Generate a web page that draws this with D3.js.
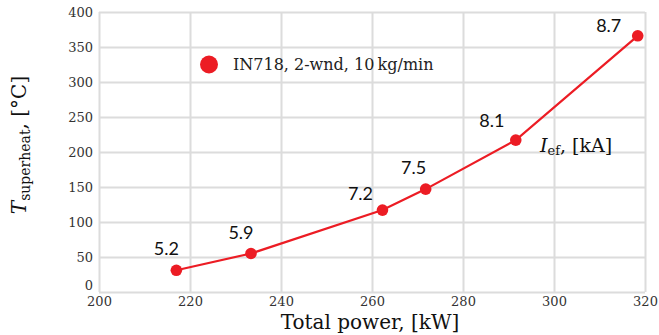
<!DOCTYPE html>
<html>
<head>
<meta charset="utf-8">
<script src="https://cdn.jsdelivr.net/npm/d3@7"></script>
<style>
  html, body { margin: 0; padding: 0; background: #fff; }
  svg { display: block; }
</style>
</head>
<body>
<svg id="chart" width="659" height="335"></svg>
<script>
// Superheat temperature vs total power, labelled with effective current
const power = [217.0, 233.4, 262.3, 271.8, 291.6, 318.4];      // kW
const superheat = [31, 55, 117, 147, 217, 366];                 // °C
const current = ["5.2", "5.9", "7.2", "7.5", "8.1", "8.7"];     // kA
const xTicks = [200, 220, 240, 260, 280, 300, 320];
const yTicks = [0, 50, 100, 150, 200, 250, 300, 350, 400];
const legendLabel = "IN718, 2-wnd, 10\u2009kg/min";

// where each current label sits relative to its point (px)
const labelDx = [-10, -10, -22, -12, -24, -29];
const labelDy = [-15, -15, -10, -15, -13, -4];

const svg = d3.select("#chart");
const red = "#ec1c24";
const grid = "#dcdcdc";
const serif = "'DejaVu Serif', 'Liberation Serif', serif";
const sans = "Lato, 'Open Sans', sans-serif";

const x = d3.scaleLinear().domain([200, 320]).range([99, 645]);
const y = d3.scaleLinear().domain([0, 400]).range([292, 12]);

// grid lines
svg.append("g")
  .attr("transform", `translate(0,${y(0)})`)
  .call(d3.axisBottom(x).tickValues(xTicks).tickSize(-(y(0) - y(400))).tickFormat(""))
  .call(g => g.select(".domain").remove())
  .call(g => g.selectAll("line").attr("stroke", grid).attr("stroke-width", 2));

svg.append("g")
  .attr("transform", `translate(${x(200)},0)`)
  .call(d3.axisLeft(y).tickValues(yTicks).tickSize(-(x(320) - x(200))).tickFormat(""))
  .call(g => g.select(".domain").remove())
  .call(g => g.selectAll("line").attr("stroke", grid).attr("stroke-width", 2));

// tick labels
svg.append("g")
  .attr("transform", `translate(0,${y(0)})`)
  .call(d3.axisBottom(x).tickValues(xTicks).tickSize(0).tickPadding(0))
  .call(g => g.select(".domain").remove())
  .call(g => g.selectAll("text")
    .attr("font-family", serif).attr("font-size", 13).attr("fill", "#333")
    .attr("dy", "1.05em"));

svg.append("g")
  .attr("transform", `translate(${x(200)},0)`)
  .call(d3.axisLeft(y).tickValues(yTicks).tickSize(0).tickPadding(6))
  .call(g => g.select(".domain").remove())
  .call(g => g.selectAll("text")
    .attr("font-family", serif).attr("font-size", 13).attr("fill", "#333")
    .attr("dy", d => d === 0 ? "-0.2em" : "0.32em"));

// data line and points
const line = d3.line().x((d, i) => x(power[i])).y(d => y(d));
svg.append("path")
  .datum(superheat)
  .attr("d", line)
  .attr("fill", "none")
  .attr("stroke", red)
  .attr("stroke-width", 2.2);

svg.append("g").selectAll("circle")
  .data(superheat)
  .join("circle")
  .attr("cx", (d, i) => x(power[i]))
  .attr("cy", d => y(d))
  .attr("r", 5.8)
  .attr("fill", red);

// current labels
svg.append("g").selectAll("text")
  .data(current)
  .join("text")
  .attr("x", (d, i) => x(power[i]) + labelDx[i])
  .attr("y", (d, i) => y(superheat[i]) + labelDy[i])
  .attr("text-anchor", "middle")
  .attr("font-family", sans)
  .attr("font-size", 18)
  .attr("fill", "#111")
  .text(d => d);

// legend
svg.append("circle")
  .attr("cx", 209).attr("cy", 64.5).attr("r", 9).attr("fill", red);
svg.append("text")
  .attr("x", 233).attr("y", 70)
  .attr("font-family", serif).attr("font-size", 16).attr("fill", "#222")
  .text(legendLabel);

// current annotation
const ann = svg.append("text")
  .attr("x", 540).attr("y", 152)
  .attr("font-family", serif).attr("font-size", 19).attr("fill", "#111");
ann.append("tspan").attr("font-style", "italic").text("I");
ann.append("tspan").attr("font-size", 13).attr("dy", 3).text("ef");
ann.append("tspan").attr("dy", -3).text(", [kA]");

// axis titles
svg.append("text")
  .attr("x", 370).attr("y", 329)
  .attr("text-anchor", "middle")
  .attr("font-family", serif).attr("font-size", 20).attr("fill", "#111")
  .text("Total power, [kW]");

const yt = svg.append("text")
  .attr("transform", "translate(26,145) rotate(-90)")
  .attr("text-anchor", "middle")
  .attr("font-family", serif).attr("font-size", 20).attr("fill", "#111");
yt.append("tspan").attr("font-style", "italic").text("T");
yt.append("tspan").attr("font-size", 14).attr("dy", 4).text("superheat");
yt.append("tspan").attr("dy", -4).text(", [\u00B0C]");
</script>
</body>
</html>
